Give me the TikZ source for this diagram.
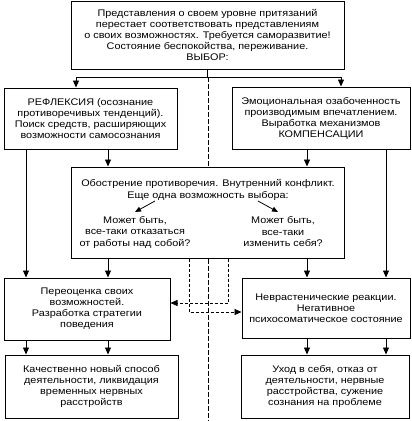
\documentclass[tikz,border=0pt]{standalone}
\usepackage{fontspec}
\setmainfont[FakeStretch=1.13]{Liberation Sans}
\usetikzlibrary{arrows.meta}
\begin{document}
\begin{tikzpicture}[x=1pt,y=-1pt,
 box/.style={draw, line width=1pt, inner sep=0pt, align=center, font=\fontsize{9.6}{11}\selectfont},
 txt/.style={align=center, inner sep=0pt, font=\fontsize{9.6}{11.5}\selectfont},
 arr/.style={line width=0.8pt, -{Triangle[length=7pt,width=6pt]}},
 sarr/.style={line width=0.8pt, -{Triangle[length=6pt,width=5pt]}},
 ln/.style={line width=0.8pt},
 dsh/.style={line width=0.7pt, dash pattern=on 3pt off 2pt},
 cdsh/.style={line width=0.7pt, dash pattern=on 5pt off 2pt}]
\useasboundingbox (0,0) rectangle (412,421);
\node[box, minimum width=273pt, minimum height=68pt] (top) at (207.5,35) {Представления о своем уровне притязаний\\перестает соответствовать представлениям\\о своих возможностях. Требуется саморазвитие!\\Состояние беспокойства, переживание.\\ВЫБОР:};
\node[box, minimum width=173pt, minimum height=61pt] (L2) at (90.5,118.5) {РЕФЛЕКСИЯ (осознание\\противоречивых тенденций).\\Поиск средств, расширяющих\\возможности самосознания};
\node[box, minimum width=178pt, minimum height=62pt] (R2) at (321,118) {Эмоциональная озабоченность\\производимым впечатлением.\\Выработка механизмов\\КОМПЕНСАЦИИ};
\node[box, minimum width=273pt, minimum height=91pt] (mid) at (207.5,212.5) {};
\node[txt] (mt) at (208,190) {Обострение противоречия. Внутренний конфликт.\\Еще одна возможность выбора:};
\node[txt] (ml) at (135,232) {Может быть,\\все-таки отказаться\\от работы над собой?};
\node[txt] (mr) at (283,232) {Может быть,\\все-таки\\изменить себя?};
\node[box, minimum width=166pt, minimum height=62pt] (L3) at (87,309) {Переоценка своих\\возможностей.\\Разработка стратегии\\поведения};
\node[box, minimum width=168pt, minimum height=60pt] (R3) at (326,308) {Неврастенические реакции.\\Негативное\\психосоматическое состояние};
\node[box, minimum width=173pt, minimum height=63pt] (L4) at (91.5,386.5) {Качественно новый способ\\деятельности, ликвидация\\временных нервных\\расстройств};
\node[box, minimum width=168pt, minimum height=63pt] (R4) at (325,386.5) {Уход в себя, отказ от\\деятельности, нервные\\расстройства, сужение\\сознания на проблеме};
% helper coordinates
\coordinate (xa) at (26,0);
\coordinate (xb) at (108,0);
\coordinate (xc) at (307,0);
\coordinate (xd) at (386,0);
\coordinate (xe) at (76,0);
\coordinate (xf) at (341,0);
\coordinate (xg) at (189,0);
\coordinate (xh) at (228,0);
\coordinate (xm) at (208,0);
\coordinate (hy) at (0,77);
\coordinate (bot) at (0,421);
\coordinate (y1) at (0,303);
\coordinate (y2) at (0,312);
\coordinate (al) at (155,201);
\coordinate (alt) at (135,212);
\coordinate (ar) at (258,201);
\coordinate (art) at (278,212);
% connectors
\draw[arr] (top.south) |- (xe |- hy) -- (xe |- L2.north);
\draw[arr] (top.south) |- (xf |- hy) -- (xf |- R2.north);
\draw[cdsh] (xm |- hy) -- (xm |- mid.north);
\draw[cdsh] (xm |- mid.south) -- (xm |- bot);
\draw[arr] (xa |- L2.south) -- (xa |- L3.north);
\draw[arr] (xb |- L2.south) -- (xb |- mid.north);
\draw[arr] (xc |- R2.south) -- (xc |- mid.north);
\draw[arr] (xd |- R2.south) -- (xd |- R3.north);
\draw[arr] (xb |- mid.south) -- (xb |- L3.north);
\draw[arr] (xc |- mid.south) -- (xc |- R3.north);
\draw[arr] (xa |- L3.south) -- (xa |- L4.north);
\draw[arr] (xb |- L3.south) -- (xb |- L4.north);
\draw[arr] (xc |- R3.south) -- (xc |- R4.north);
\draw[arr] (xd |- R3.south) -- (xd |- R4.north);
\draw[dsh, -{Triangle[length=7pt,width=6pt]}] (xh |- mid.south) |- (L3.east |- y1);
\draw[dsh, -{Triangle[length=7pt,width=6pt]}] (xg |- mid.south) |- (R3.west |- y2);
\draw[sarr] (al) -- (alt);
\draw[sarr] (ar) -- (art);
\end{tikzpicture}
\end{document}
